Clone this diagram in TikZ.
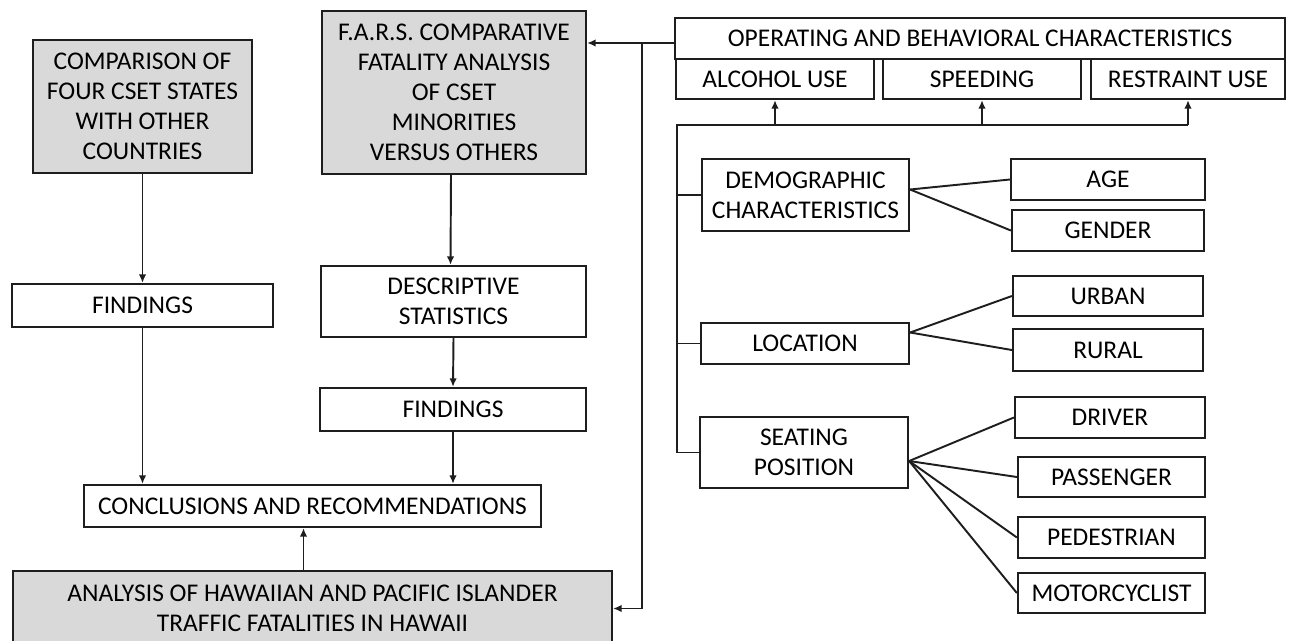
\documentclass[tikz,border=0pt]{standalone}
\usepackage{fontspec}
\setmainfont{Carlito}
\usetikzlibrary{arrows.meta}
\definecolor{boxgray}{RGB}{217,217,217}
\definecolor{ink}{RGB}{30,30,30}
\tikzset{>={Latex[length=1.7mm,width=1.5mm]}}
\tikzset{
  box/.style={draw=ink, line width=1.3pt, fill=white, align=center, inner sep=0pt,
    font=\fontsize{14.5}{17}\selectfont, text=black},
  shaded/.style={box, fill=boxgray},
  link/.style={draw=ink, line width=1.1pt}
}

\begin{document}
\begin{tikzpicture}[x=0.02cm,y=-0.02cm]
  \useasboundingbox (0,0) rectangle (1290,640);
  % left and middle columns
  \node[shaded, minimum width=4.38cm, minimum height=2.66cm] (comp) at (142.5,106.5) {COMPARISON OF\\FOUR CSET STATES\\WITH OTHER\\COUNTRIES};
  \node[box, minimum width=5.22cm, minimum height=0.86cm] (find1) at (142.5,305.5) {FINDINGS};
  \node[shaded, minimum width=5.28cm, minimum height=3.26cm] (fars) at (454,92.5) {F.A.R.S. COMPARATIVE\\FATALITY ANALYSIS\\OF CSET\\MINORITIES\\VERSUS OTHERS};
  \node[box, minimum width=5.30cm, minimum height=1.42cm] (desc) at (453.5,301.5) {DESCRIPTIVE\\STATISTICS};
  \node[box, minimum width=5.32cm, minimum height=0.86cm] (find2) at (453,409.5) {FINDINGS};
  \node[box, minimum width=9.14cm, minimum height=0.84cm] (concl) at (312.5,506) {CONCLUSIONS AND RECOMMENDATIONS};
  \node[shaded, minimum width=11.98cm, minimum height=1.5cm] (hawaii) at (312.5,608.5) {ANALYSIS OF HAWAIIAN AND PACIFIC ISLANDER\\TRAFFIC FATALITIES IN HAWAII};
  % operating and behavioral characteristics
  \node[box, minimum width=12.2cm, minimum height=0.82cm] (oper) at (980,38.5) {OPERATING AND BEHAVIORAL CHARACTERISTICS};
  \node[box, minimum width=3.96cm, minimum height=0.8cm] (alc) at (775,79) {ALCOHOL USE};
  \node[box, minimum width=3.96cm, minimum height=0.8cm] (speed) at (982,79) {SPEEDING};
  \node[box, minimum width=3.88cm, minimum height=0.8cm] (restr) at (1188,79) {RESTRAINT USE};
  % characteristics and their categories
  \node[box, minimum width=4.14cm, minimum height=1.44cm] (demo) at (805.5,195) {DEMOGRAPHIC\\CHARACTERISTICS};
  \node[box, minimum width=4.16cm, minimum height=0.82cm] (loc) at (805,343.5) {LOCATION};
  \node[box, minimum width=4.16cm, minimum height=1.42cm] (seat) at (804,452.5) {SEATING\\POSITION};
  \node[box, minimum width=3.88cm, minimum height=0.82cm] (age) at (1108,179.5) {AGE};
  \node[box, minimum width=3.84cm, minimum height=0.82cm] (gender) at (1108,230.5) {GENDER};
  \node[box, minimum width=3.80cm, minimum height=0.80cm] (urban) at (1108,296) {URBAN};
  \node[box, minimum width=3.80cm, minimum height=0.84cm] (rural) at (1108,350) {RURAL};
  \node[box, minimum width=3.80cm, minimum height=0.82cm] (driver) at (1110,417.5) {DRIVER};
  \node[box, minimum width=3.74cm, minimum height=0.80cm] (pass) at (1111.5,477) {PASSENGER};
  \node[box, minimum width=3.74cm, minimum height=0.82cm] (ped) at (1111.5,537.5) {PEDESTRIAN};
  \node[box, minimum width=3.74cm, minimum height=0.80cm] (moto) at (1111.5,593) {MOTORCYCLIST};
  \coordinate (split) at ([xshift=-0.64cm,yshift=-0.09cm]oper.west);
  \coordinate (bus) at (677,125);
  % arrows down the left side
  \draw[link,->] (comp.south) -- (find1.north);
  \draw[link,->] (find1.south) -- (find1.south |- concl.north);
  \draw[link,->] ([xshift=-0.06cm]fars.south) -- ([xshift=-0.06cm]desc.north);
  \draw[link,->] (desc.south) -- (find2.north);
  \draw[link,->] (find2.south) -- (find2.south |- concl.north);
  \draw[link,->] ([xshift=-0.18cm]hawaii.north) -- ([xshift=-0.18cm]concl.south);
  % feedback from the characteristics
  \draw[link,->] ([yshift=-0.09cm]oper.west) -- (split -| fars.east);
  \draw[link,->] (split) |- (hawaii.east);
  \draw[link] (bus -| restr) -- (bus) -- (bus |- seat.west) -- (seat.west);
  \draw[link] (bus |- demo.west) -- (demo.west);
  \draw[link] (bus |- loc.west) -- (loc.west);
  \foreach \t in {alc,speed,restr}
    \draw[link,->] (bus -| \t) -- (\t.south);
  % fans to the categories
  \foreach \t in {age,gender}
    \draw[link] ([yshift=0.11cm]demo.east) -- (\t.west);
  \foreach \t in {urban,rural}
    \draw[link] ([yshift=0.22cm]loc.east) -- (\t.west);
  \foreach \t in {driver,pass,ped,moto}
    \draw[link] ([yshift=-0.17cm]seat.east) -- (\t.west);
\end{tikzpicture}
\end{document}
